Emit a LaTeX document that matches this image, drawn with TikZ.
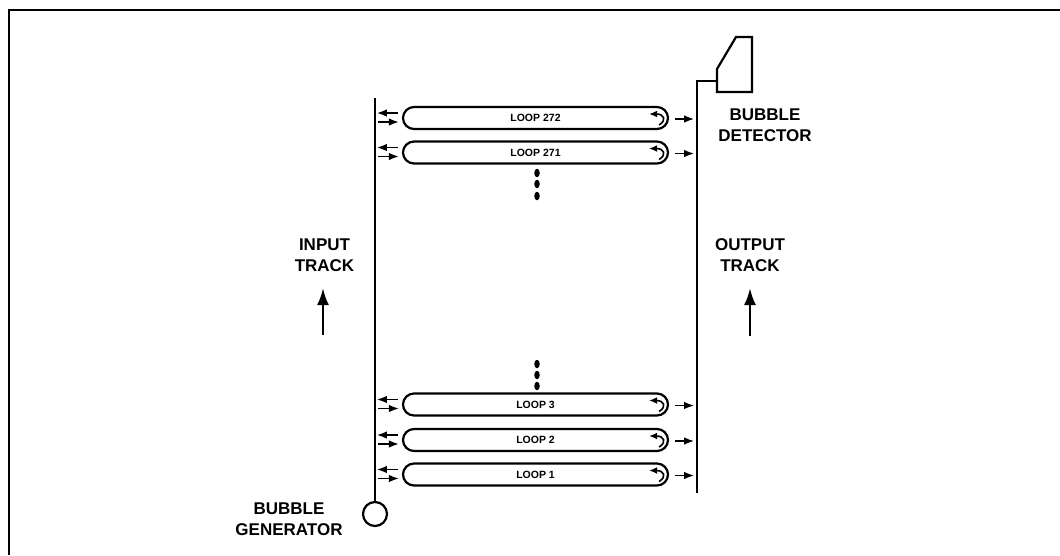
\documentclass[tikz,border=0pt]{standalone}
\usepackage{fontspec}
\setmainfont{Liberation Sans}
\usetikzlibrary{arrows.meta,shapes.misc,shapes.geometric}
\tikzset{
  ln/.style={line width=2.2pt,black},
  frameline/.style={line width=2.8pt,black},
  loopbox/.style={draw,rounded rectangle,line width=2.2pt,minimum width=265pt,minimum height=22pt,inner sep=0pt,
     font=\fontsize{10.5}{12}\selectfont\bfseries},
  lbl/.style={align=center,inner sep=0pt,font=\fontsize{17}{21}\selectfont\bfseries},
  small/.style={line width=1.5pt,-{Latex[length=10pt,width=7.5pt]}},
  bigarrow/.style={line width=2.6pt,-{Latex[length=17pt,width=12pt]}},
  turn/.style={line width=1.6pt,-{Latex[length=8pt,width=7pt]}},
  dotmark/.style={fill=black,draw=none,ellipse,minimum width=5.5pt,minimum height=8.5pt,inner sep=0pt},
}
\begin{document}
\begin{tikzpicture}[x=1pt,y=-1pt]
\useasboundingbox (0,0) rectangle (1060,555);
% frame
\coordinate (fa) at (9,555); \coordinate (fb) at (9,10); \coordinate (fc) at (1060,10);
\draw[frameline,line cap=butt] (fa) -- (fb) -- (fc);
% generator and input track
\node[draw,circle,line width=2.2pt,minimum size=24pt,inner sep=0pt] (gen) at (375,514) {};
\coordinate (intop) at (375,98);
\draw[ln] (intop) -- (gen.north);
% detector and output track
\coordinate (d1) at (717,69); \coordinate (d2) at (736,37); \coordinate (d3) at (752,37);
\coordinate (d4) at (752,92); \coordinate (d5) at (717,92); \coordinate (dj) at (717,81);
\draw[ln,line join=miter] (d1) -- (d2) -- (d3) -- (d4) -- (d5) -- cycle;
\coordinate (outbend) at (697,81); \coordinate (outbot) at (697,493);
\draw[ln] (dj) -- (outbend) -- (outbot);
% loops
\node[loopbox] (L272) at (535.5,118) {\raisebox{-2.5pt}{LOOP 272}};
\node[loopbox] (L271) at (535.5,152.5) {LOOP 271};
\node[loopbox] (L3) at (535.5,404.5) {LOOP 3};
\node[loopbox] (L2) at (535.5,440) {LOOP 2};
\node[loopbox] (L1) at (535.5,474.5) {\raisebox{-1.5pt}{LOOP 1}};
% loop arrows
\foreach \n in {L272,L271,L3,L2,L1}{
  \coordinate (a1) at ([shift={(-4,-5)}]\n.west);
  \coordinate (a2) at ([shift={(-25,-5)}]\n.west);
  \coordinate (b1) at ([shift={(-24,4)}]\n.west);
  \coordinate (b2) at ([shift={(-3,4)}]\n.west);
  \coordinate (c1) at ([shift={(6,1)}]\n.east);
  \coordinate (c2) at ([shift={(25,1)}]\n.east);
  \coordinate (t1) at ([shift={(-10,7)}]\n.east);
  \coordinate (t2) at ([shift={(-20,-4)}]\n.east);
  \draw[small] (a1) -- (a2);
  \draw[small] (b1) -- (b2);
  \draw[small] (c1) -- (c2);
  \draw[turn] (t1) .. controls ([shift={(8,-5)}]t1) and ([shift={(5,-11)}]t1) .. (t2);
}
% ellipsis dots
\node[dotmark] (u1) at (537,173) {};
\node[dotmark] (u2) at (537,184) {};
\node[dotmark] (u3) at (537,196) {};
\node[dotmark] (v1) at (537,364) {};
\node[dotmark] (v2) at (537,375) {};
\node[dotmark] (v3) at (537,386) {};
% labels
\node[lbl] (inlbl) at (324.5,255) {INPUT\\TRACK};
\node[lbl] (outlbl) at (750,255) {OUTPUT\\TRACK};
\node[lbl] (genlbl) at (289,519) {BUBBLE\\GENERATOR};
\node[lbl] (detlbl) at (765,125.5) {BUBBLE\\DETECTOR};
% flow arrows
\coordinate (ia) at (323,335); \coordinate (ib) at (323,288);
\coordinate (oa) at (750,336); \coordinate (ob) at (750,288);
\draw[bigarrow] (ia) -- (ib);
\draw[bigarrow] (oa) -- (ob);
\end{tikzpicture}
\end{document}
